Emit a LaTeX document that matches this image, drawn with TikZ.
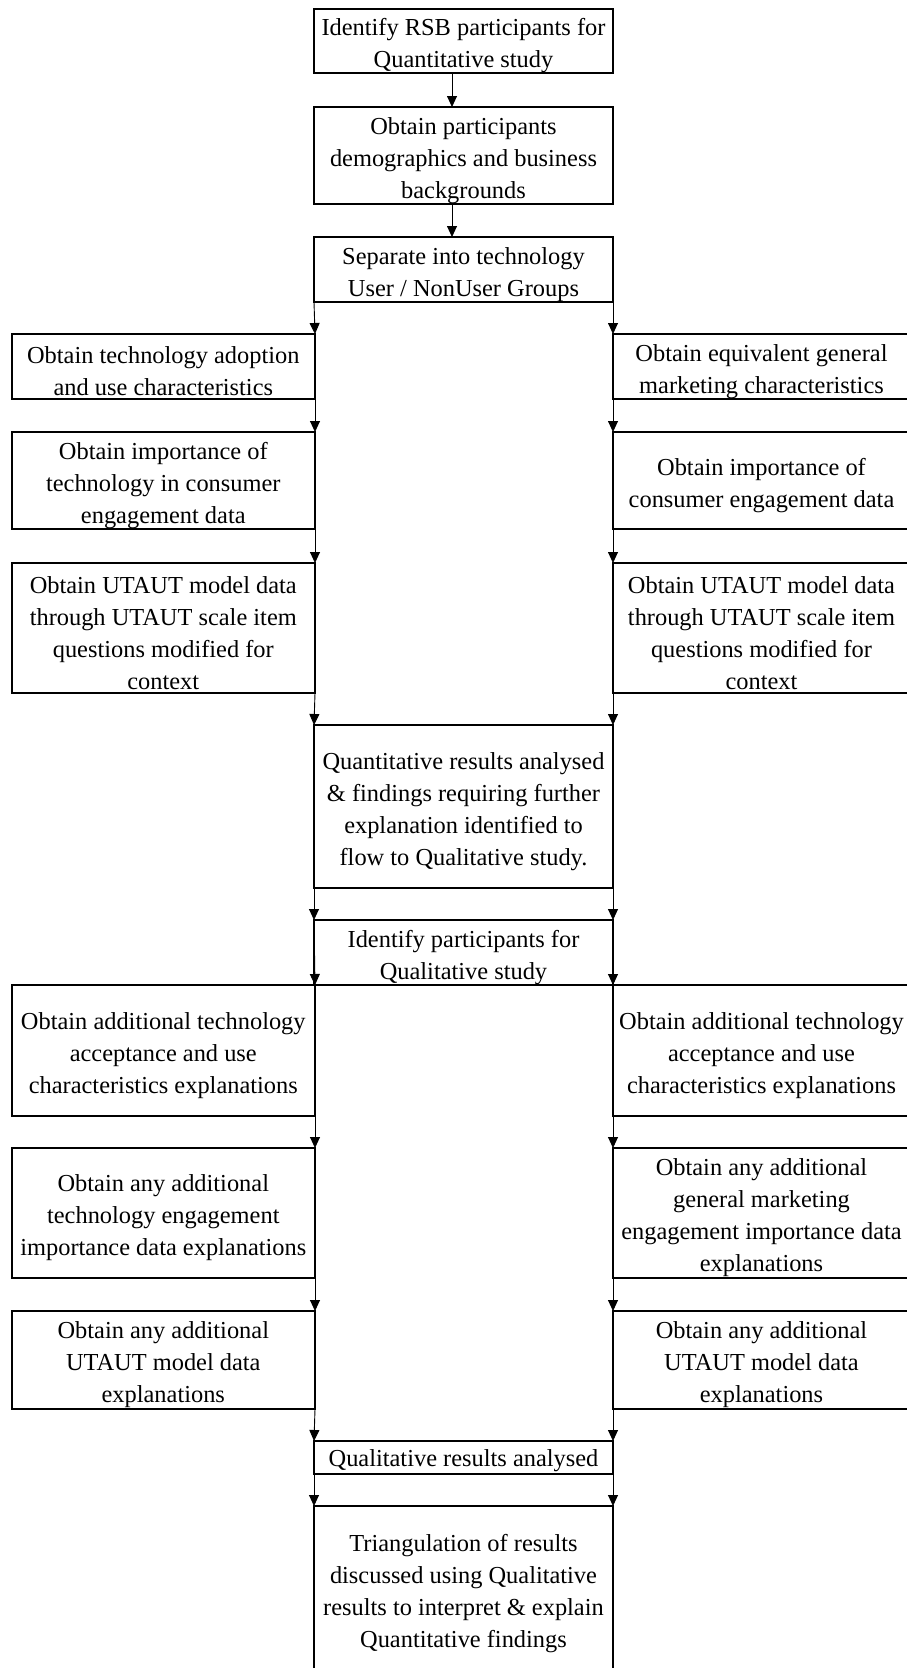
\documentclass[tikz,border=0pt]{standalone}
\usepackage{fontspec}
\setmainfont{Liberation Serif}
\usetikzlibrary{arrows.meta}
% taller first line, so that each text block sits a little lower in its box
\newcommand{\topgap}{\rule{0pt}{27pt}}
\begin{document}
\begin{tikzpicture}[x=1pt,y=-1pt,
  box/.style={draw, line width=2pt, rectangle, inner xsep=0pt, inner ysep=-10pt, outer sep=0pt,
    align=center, font=\fontsize{24.4}{32}\selectfont},
  mid/.style={box, minimum width=299pt},
  lcol/.style={box, minimum width=303.4pt},
  rcol/.style={box, minimum width=297pt},
  arr/.style={line width=0.9pt, -{Triangle[width=10pt,length=11pt]}}]
\useasboundingbox (0,0) rectangle (907,1668);
\clip (0,0) rectangle (907,1668);

% centre column, first stage
\node[mid, minimum height=64pt] (b1) at (463.5,41) {\topgap Identify RSB participants for\\Quantitative study};
\node[mid, minimum height=97pt] (b2) at (463.5,155.5) {\topgap Obtain participants\\demographics and business\\backgrounds};
\node[mid, minimum height=65pt] (b3) at (463.5,269.5) {\topgap Separate into technology\\User / NonUser Groups};

% quantitative branches
\node[lcol, minimum height=65pt] (a1) at (163.3,366.5) {\topgap Obtain technology adoption\\and use characteristics};
\node[rcol, minimum height=65pt] (ra1) at (761.5,366.5) {\topgap Obtain equivalent general\\marketing characteristics};
\node[lcol, minimum height=97pt] (a2) at (163.3,480.5) {\topgap Obtain importance of\\technology in consumer\\engagement data};
\node[rcol, minimum height=97pt] (ra2) at (761.5,480.5) {\topgap Obtain importance of\\consumer engagement data};
\node[lcol, minimum height=130pt] (a3) at (163.3,628) {\topgap Obtain UTAUT model data\\through UTAUT scale item\\questions modified for\\context};
\node[rcol, minimum height=130pt] (ra3) at (761.5,628) {\topgap Obtain UTAUT model data\\through UTAUT scale item\\questions modified for\\context};

\node[mid, minimum height=163pt] (q) at (463.5,806.5) {\topgap Quantitative results analysed\\\& findings requiring further\\explanation identified to\\flow to Qualitative study.};
\node[mid, minimum height=65pt] (id) at (463.5,952.5) {\topgap Identify participants for\\Qualitative study};

% qualitative branches
\node[lcol, minimum height=131pt] (c1) at (163.3,1050.5) {\topgap Obtain additional technology\\acceptance and use\\characteristics explanations};
\node[rcol, minimum height=131pt] (rc1) at (761.5,1050.5) {\topgap Obtain additional technology\\acceptance and use\\characteristics explanations};
\node[lcol, minimum height=130pt] (c2) at (163.3,1213) {\topgap Obtain any additional\\technology engagement\\importance data explanations};
\node[rcol, minimum height=130pt] (rc2) at (761.5,1213) {\topgap Obtain any additional\\general marketing\\engagement importance data\\explanations};
\node[lcol, minimum height=98pt] (c3) at (163.3,1360) {\topgap Obtain any additional\\UTAUT model data\\explanations};
\node[rcol, minimum height=98pt] (rc3) at (761.5,1360) {\topgap Obtain any additional\\UTAUT model data\\explanations};

\node[mid, minimum height=33pt] (ql) at (463.5,1457.5) {\rule{0pt}{23.7pt}Qualitative results analysed};
\node[mid, minimum height=165pt] (tri) at (463.5,1588.5) {\topgap Triangulation of results\\discussed using Qualitative\\results to interpret \& explain\\Quantitative findings};

% connectors
\draw[arr] ([xshift=-11.5pt]b1.south) -- ([xshift=-11.5pt]b2.north);
\draw[arr] ([xshift=-11.5pt]b2.south) -- ([xshift=-11.5pt]b3.north);
\draw[arr] (b3.south west) -- (a1.north east);
\draw[arr] (b3.south east) -- (ra1.north west);
\draw[arr] (a1.south east) -- (a2.north east);
\draw[arr] (ra1.south west) -- (ra2.north west);
\draw[arr] (a2.south east) -- (a3.north east);
\draw[arr] (ra2.south west) -- (ra3.north west);
\draw[arr] (a3.south east) -- (q.north west);
\draw[arr] (ra3.south west) -- (q.north east);
\draw[arr] (q.south west) -- (id.north west);
\draw[arr] (q.south east) -- (id.north east);
\draw[arr] (id.north west) -- (c1.north east);
\draw[arr] (id.north east) -- (rc1.north west);
\draw[arr] (c1.south east) -- (c2.north east);
\draw[arr] (rc1.south west) -- (rc2.north west);
\draw[arr] (c2.south east) -- (c3.north east);
\draw[arr] (rc2.south west) -- (rc3.north west);
\draw[arr] (c3.south east) -- (ql.north west);
\draw[arr] (rc3.south west) -- (ql.north east);
\draw[arr] (ql.south west) -- (tri.north west);
\draw[arr] (ql.south east) -- (tri.north east);
\end{tikzpicture}
\end{document}
